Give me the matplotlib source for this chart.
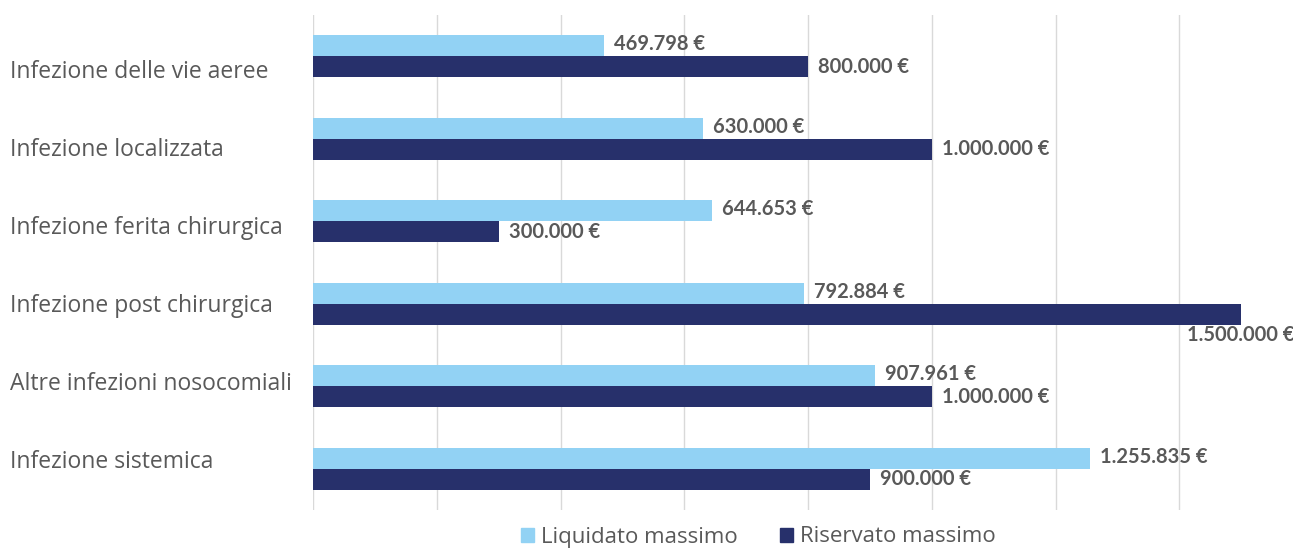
import matplotlib.pyplot as plt
from matplotlib.patches import Patch
import numpy as np

# categorie e valori (euro)
categorie = ['Infezione delle vie aeree', 'Infezione localizzata', 'Infezione ferita chirurgica',
             'Infezione post chirurgica', 'Altre infezioni nosocomiali', 'Infezione sistemica']
liquidato = [469798, 630000, 644653, 792884, 907961, 1255835]
riservato = [800000, 1000000, 300000, 1500000, 1000000, 900000]

col_liq = '#92D2F4'
col_ris = '#27306B'
grigio = '#595959'


def euro(v):
    return '{:,}'.format(v).replace(',', '.') + ' €'


W, H = 1293, 549
fig = plt.figure(figsize=(W / 100, H / 100), dpi=100)
ax = fig.add_axes([313 / W, 1 - 510 / H, (1303 - 313) / W, 495 / H])

y = np.arange(len(categorie))
h = 0.255
ax.barh(y - h / 2, liquidato, height=h, color=col_liq, zorder=3)
ax.barh(y + h / 2, riservato, height=h, color=col_ris, zorder=3)

ax.set_xlim(0, 1600000)
ax.set_ylim(len(categorie) - 0.5, -0.5)
ax.set_xticks(np.arange(0, 1600001, 200000))
ax.set_xticklabels([])
ax.set_yticks([])
ax.tick_params(length=0)
ax.grid(axis='x', color='#D9D9D9', linewidth=1, zorder=0)
for s in ax.spines.values():
    s.set_visible(False)

lab_font = dict(family='Lato', fontweight='bold', fontsize=14.5, color=grigio)
px = 200000 / 123.7  # euro per pixel
for i, (l, r) in enumerate(zip(liquidato, riservato)):
    ax.text(l + 10 * px, i - h / 2 - 0.02, euro(l), ha='left', va='center', **lab_font)
    if r >= 1500000:
        ax.text(r - 54 * px, i + 0.38, euro(r), ha='left', va='center',
                clip_on=False, **lab_font)
    else:
        ax.text(r + 10 * px, i + h / 2, euro(r), ha='left', va='center', **lab_font)

# etichette delle categorie allineate a sinistra
lab_y = np.linspace(72, 462, len(categorie))
for c, yy in zip(categorie, lab_y):
    fig.text(10 / W, 1 - yy / H, c, ha='left', va='center',
             fontsize=16.5, color=grigio, family='Open Sans')

handles = [Patch(color=col_liq, label='Liquidato massimo'),
           Patch(color=col_ris, label='Riservato massimo')]
fig.legend(handles=handles, loc='center', bbox_to_anchor=(758 / W, 1 - 537 / H), ncol=2,
           frameon=False, prop={'family': 'Open Sans', 'size': 16}, labelcolor=grigio,
           handlelength=0.6, handleheight=0.6, handletextpad=0.3, columnspacing=1.9,
           borderaxespad=0)

fig.savefig('out.png', dpi=100)
